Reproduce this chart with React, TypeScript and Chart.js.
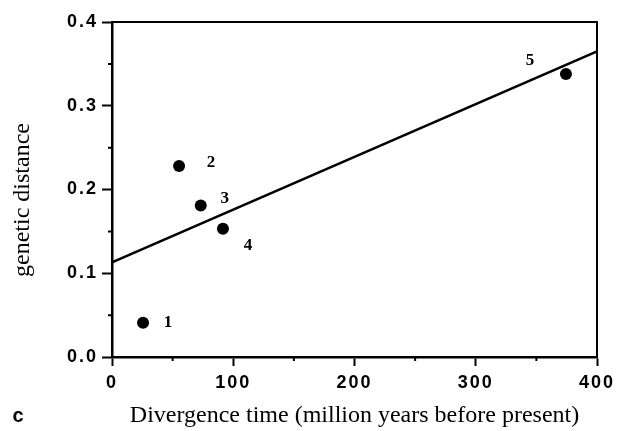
import React, { useEffect, useRef } from 'react';
import { Chart, registerables } from 'chart.js';

Chart.register(...registerables);

// ---- data ----
const pointIds = ['1', '2', '3', '4', '5'];
const divergenceTimes = [25.6, 55.3, 73.2, 91.5, 374.4];
const geneticDistances = [0.041, 0.228, 0.181, 0.153, 0.338];
const fitTimes = [0, 400];
const fitDistances = [0.113, 0.365];
const xTicks = [0, 100, 200, 300, 400];
const yTicks = [0, 0.1, 0.2, 0.3, 0.4];
const xMinorTicks = [50, 150, 250, 350];
const yMinorTicks = [0.05, 0.15, 0.25, 0.35];
const xTitle = 'Divergence time (million years before present)';
const yTitle = 'genetic distance';
const panelLabel = 'c';

// label placement (pixel offsets from each point)
const labelOffsets = [
  [25, 0],
  [32, -3],
  [24, -7],
  [25, 17],
  [-36, -13],
];

const decorPlugin = {
  id: 'decor',
  beforeDraw(chart: any) {
    (chart.ctx as any).letterSpacing = '2px';
  },
  beforeDatasetsDraw(chart: any) {
    (chart.ctx as any).letterSpacing = '0px';
  },
  afterDraw(chart: any) {
    const ctx = chart.ctx;
    const { left, right, top, bottom } = chart.chartArea;
    const xs = chart.scales.x;
    const ys = chart.scales.y;
    ctx.save();
    (ctx as any).letterSpacing = '0px';
    ctx.strokeStyle = '#000';
    // frame top and right
    ctx.lineWidth = 2;
    ctx.beginPath();
    ctx.moveTo(left, top);
    ctx.lineTo(right, top);
    ctx.lineTo(right, bottom);
    ctx.stroke();
    // minor ticks
    ctx.lineWidth = 2;
    ctx.beginPath();
    xMinorTicks.forEach((v) => {
      const px = xs.getPixelForValue(v);
      ctx.moveTo(px, bottom);
      ctx.lineTo(px, bottom + 4);
    });
    yMinorTicks.forEach((v) => {
      const py = ys.getPixelForValue(v);
      ctx.moveTo(left, py);
      ctx.lineTo(left - 4, py);
    });
    ctx.stroke();

    // point labels
    ctx.fillStyle = '#000';
    ctx.font = 'bold 17px "Liberation Serif", serif';
    ctx.textAlign = 'center';
    ctx.textBaseline = 'middle';
    const meta = chart.getDatasetMeta(0);
    meta.data.forEach((el: any, i: number) => {
      const [dx, dy] = labelOffsets[i];
      ctx.fillText(pointIds[i], el.x + dx, el.y + dy);
    });

    // axis titles
    ctx.font = '24px "Liberation Serif", serif';
    ctx.textBaseline = 'alphabetic';
    ctx.fillText(xTitle, (left + right) / 2, 422);
    ctx.save();
    ctx.translate(29, 200);
    ctx.rotate(-Math.PI / 2);
    ctx.fillText(yTitle, 0, 0);
    ctx.restore();

    // panel label
    ctx.font = 'bold 20px "Liberation Sans", Arial, sans-serif';
    ctx.fillText(panelLabel, 18, 422);
    ctx.restore();
  },
};

export default function App() {
  const ref = useRef<HTMLCanvasElement | null>(null);
  useEffect(() => {
    if (!ref.current) return;
    const tickFont = { family: '"Liberation Sans", Arial, sans-serif', weight: 'bold' as const, size: 18 };
    const chart = new Chart(ref.current, {
      type: 'scatter',
      data: {
        datasets: [
          {
            type: 'scatter',
            data: divergenceTimes.map((x, i) => ({ x, y: geneticDistances[i] })),
            backgroundColor: '#000',
            borderColor: '#000',
            borderWidth: 0,
            pointRadius: 6,
            pointHoverRadius: 6,
          },
          {
            type: 'line',
            data: fitTimes.map((x, i) => ({ x, y: fitDistances[i] })),
            borderColor: '#000',
            borderWidth: 2.5,
            pointRadius: 0,
            fill: false,
          } as any,
        ],
      },
      options: {
        animation: false,
        responsive: false,
        devicePixelRatio: 1,
        layout: { padding: { left: 0, top: 22, right: 22, bottom: 0 } },
        plugins: { legend: { display: false }, tooltip: { enabled: false } },
        scales: {
          x: {
            type: 'linear',
            min: 0,
            max: 400,
            afterBuildTicks: (s: any) => {
              s.ticks = xTicks.map((v) => ({ value: v }));
            },
            afterFit: (s: any) => {
              s.height = 74;
            },
            grid: { drawOnChartArea: false, tickLength: 9, tickWidth: 2, tickColor: '#000' },
            border: { color: '#000', width: 2.5 },
            ticks: { font: tickFont, color: '#000', padding: 6, maxRotation: 0 },
            title: { display: false },
          },
          y: {
            type: 'linear',
            min: 0,
            max: 0.4,
            afterBuildTicks: (s: any) => {
              s.ticks = yTicks.map((v) => ({ value: v }));
            },
            afterFit: (s: any) => {
              s.width = 112;
            },
            grid: { drawOnChartArea: false, tickLength: 10, tickWidth: 2, tickColor: '#000' },
            border: { color: '#000', width: 2.5 },
            ticks: {
              font: tickFont,
              color: '#000',
              padding: 4,
              callback: (v: any) => Number(v).toFixed(1),
            },
            title: { display: false },
          },
        },
      },
      plugins: [decorPlugin],
    });
    return () => chart.destroy();
  }, []);
  return (
    <div style={{ position: 'fixed', left: 0, top: 0, width: 619, height: 431, background: '#fff' }}>
      <canvas ref={ref} width={619} height={431} />
    </div>
  );
}
